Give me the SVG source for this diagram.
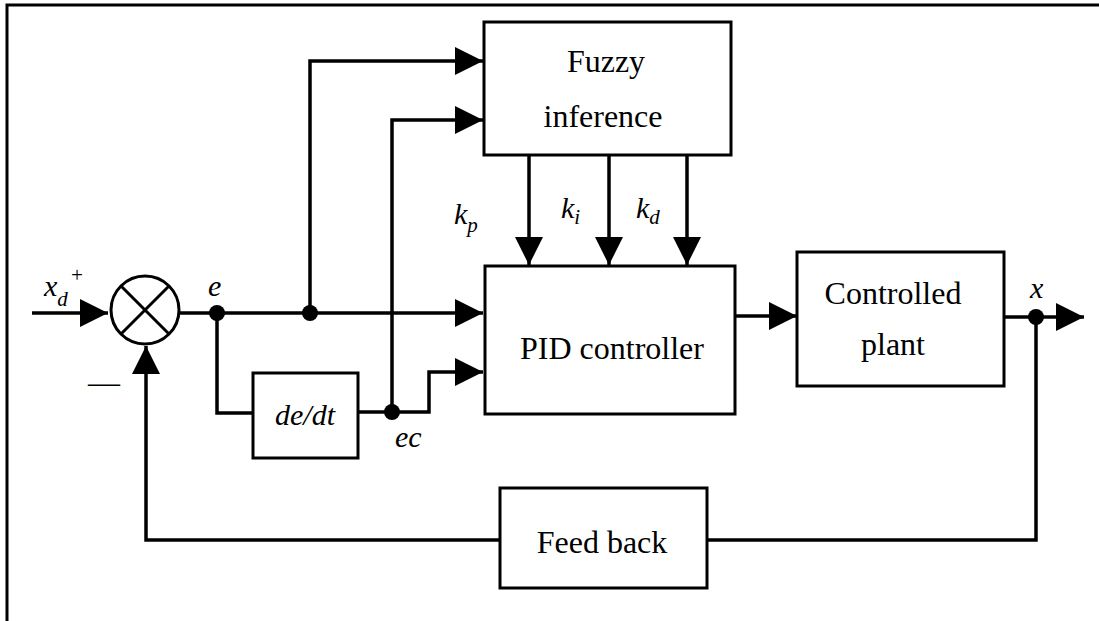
<svg xmlns="http://www.w3.org/2000/svg" width="1099" height="621" viewBox="0 0 1099 621">
<style>
.box{fill:#fff;stroke:#000;stroke-width:3}
.ln{fill:none;stroke:#000;stroke-width:3.5}
.t{font-family:"Liberation Serif","Times New Roman",serif;font-size:32px;fill:#000;text-anchor:middle}
.i{font-family:"Liberation Serif","Times New Roman",serif;font-style:italic;font-size:30px;fill:#000}
.s{font-size:21px}
</style>
<defs>
<marker id="ah" markerUnits="userSpaceOnUse" markerWidth="30" markerHeight="30" refX="28" refY="14" orient="auto">
<path d="M0,0 L28,14 L0,28 Z" fill="#000"/>
</marker>
</defs>
<rect width="1099" height="621" fill="#fff"/>
<path d="M7,621 V5 H1099" fill="none" stroke="#000" stroke-width="3"/>

<g id="connectors">
<path class="ln" d="M32,313 H108" marker-end="url(#ah)"/>
<path class="ln" d="M180,313 H483" marker-end="url(#ah)"/>
<path class="ln" d="M310,313 V61 H483" marker-end="url(#ah)"/>
<path class="ln" d="M217,313 V413 H253"/>
<path class="ln" d="M358,412 H429 V372 H483" marker-end="url(#ah)"/>
<path class="ln" d="M392,412 V120 H483" marker-end="url(#ah)"/>
<path class="ln" d="M529,155 V265" marker-end="url(#ah)"/>
<path class="ln" d="M609,155 V265" marker-end="url(#ah)"/>
<path class="ln" d="M687,155 V265" marker-end="url(#ah)"/>
<path class="ln" d="M735,316 H797" marker-end="url(#ah)"/>
<path class="ln" d="M1004,317 H1084" marker-end="url(#ah)"/>
<path class="ln" d="M1036,317 V540 H707"/>
<path class="ln" d="M500,540 H146 V346" marker-end="url(#ah)"/>
<circle cx="217" cy="313" r="8"/>
<circle cx="310" cy="313" r="8"/>
<circle cx="392" cy="412" r="8"/>
<circle cx="1036" cy="317" r="8"/>
</g>

<g id="sum">
<circle cx="145" cy="310" r="34" fill="#fff" stroke="#000" stroke-width="3"/>
<path d="M121,286 L169,334 M169,286 L121,334" stroke="#000" stroke-width="3"/>
</g>

<g id="fuzzy">
<rect class="box" x="484" y="22" width="247" height="133"/>
<text class="t" x="606" y="72">Fuzzy</text>
<text class="t" x="603" y="127">inference</text>
</g>

<g id="pid">
<rect class="box" x="485" y="266" width="250" height="148"/>
<text class="t" x="612" y="359">PID controller</text>
</g>

<g id="plant">
<rect class="box" x="797" y="252" width="207" height="134"/>
<text class="t" x="893" y="304">Controlled</text>
<text class="t" x="893" y="355">plant</text>
</g>

<g id="dedt">
<rect class="box" x="253" y="373" width="105" height="85"/>
<text class="i" x="305" y="425" text-anchor="middle">de/dt</text>
</g>

<g id="feedback">
<rect class="box" x="500" y="488" width="207" height="100"/>
<text class="t" x="602" y="553">Feed back</text>
</g>

<g id="labels">
<text class="i" x="44" y="296">x<tspan class="s" dy="10">d</tspan><tspan class="s" dx="2" dy="-24">+</tspan></text>
<text class="t" x="104" y="393">—</text>
<text class="i" x="208" y="296">e</text>
<text class="i" x="395" y="447">ec</text>
<text class="i" x="1030" y="298">x</text>
<text class="i" x="454" y="224">k<tspan class="s" dy="8">p</tspan></text>
<text class="i" x="561" y="218">k<tspan class="s" dy="6">i</tspan></text>
<text class="i" x="636" y="218">k<tspan class="s" dy="6">d</tspan></text>
</g>
</svg>
